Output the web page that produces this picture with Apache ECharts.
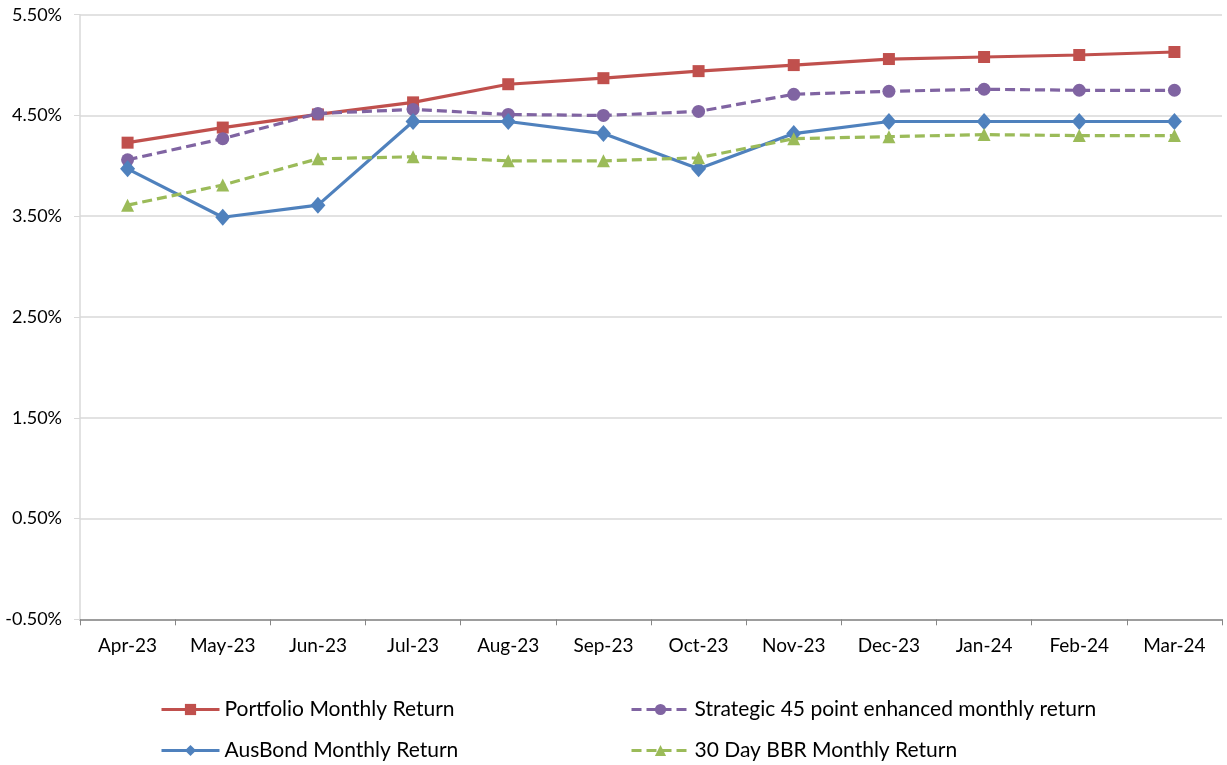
<!DOCTYPE html>
<html>
<head>
<meta charset="utf-8">
<script src="https://cdn.jsdelivr.net/npm/echarts@6/dist/echarts.min.js"></script>
<style>
  html, body { margin: 0; padding: 0; background: #fff; }
  #chart { width: 1227px; height: 765px; }
</style>
</head>
<body>
<div id="chart"></div>
<script>
var months = ['Apr-23', 'May-23', 'Jun-23', 'Jul-23', 'Aug-23', 'Sep-23', 'Oct-23', 'Nov-23', 'Dec-23', 'Jan-24', 'Feb-24', 'Mar-24'];
var portfolio = [4.23, 4.38, 4.51, 4.63, 4.81, 4.87, 4.94, 5.00, 5.06, 5.08, 5.10, 5.13];
var strategic = [4.06, 4.27, 4.52, 4.56, 4.51, 4.50, 4.54, 4.71, 4.74, 4.76, 4.75, 4.75];
var ausBond = [3.97, 3.49, 3.61, 4.44, 4.44, 4.32, 3.97, 4.32, 4.44, 4.44, 4.44, 4.44];
var bbr = [3.61, 3.81, 4.07, 4.09, 4.05, 4.05, 4.08, 4.27, 4.29, 4.31, 4.30, 4.30];

var font = 'Lato';
var myChart = echarts.init(document.getElementById('chart'));

function lineSeries(name, data, color, symbol, size, dashed) {
    return {
        name: name,
        type: 'line',
        data: data,
        symbol: symbol,
        symbolSize: size,
        showAllSymbol: true,
        itemStyle: { color: color },
        lineStyle: { color: color, width: 3.2, type: dashed ? [10, 5] : 'solid' },
        emphasis: { disabled: true },
        animation: false
    };
}

// one legend per entry so the 2x2 layout is fixed
function legendItem(name, left, top) {
    return {
        data: [name],
        left: left,
        top: top,
        padding: 0,
        itemWidth: 58,
        itemHeight: 14,
        selectedMode: false,
        lineStyle: { width: 3 },
        textStyle: { fontFamily: font, fontSize: 21, color: '#000' }
    };
}

var option = {
    backgroundColor: '#fff',
    textStyle: { fontFamily: font },
    grid: { left: 80, right: 5, top: 14.7, bottom: 765 - 619.3, containLabel: false },
    legend: [
        legendItem('Portfolio Monthly Return', 160, 699),
        legendItem('AusBond Monthly Return', 160, 740),
        legendItem('Strategic 45 point enhanced monthly return', 630, 699),
        legendItem('30 Day BBR Monthly Return', 630, 740)
    ],
    xAxis: {
        type: 'category',
        data: months,
        boundaryGap: true,
        axisLine: { onZero: false, lineStyle: { color: '#868686', width: 1.5 } },
        axisTick: { show: true, length: 6, lineStyle: { color: '#868686' } },
        axisLabel: { fontFamily: font, fontSize: 19, color: '#000', margin: 17 },
        splitLine: { show: false }
    },
    yAxis: {
        type: 'value',
        min: -0.5,
        max: 5.5,
        interval: 1,
        axisLine: { show: true, lineStyle: { color: '#d9d9d9', width: 1.5 } },
        axisTick: { show: true, length: 6, lineStyle: { color: '#d9d9d9' } },
        axisLabel: {
            fontFamily: font, fontSize: 18, color: '#000', margin: 18,
            formatter: function (v) { return v.toFixed(2) + '%'; }
        },
        splitLine: { lineStyle: { color: '#d9d9d9', width: 1.5 } }
    },
    series: [
        lineSeries('Portfolio Monthly Return', portfolio, '#c0504d', 'rect', 12, false),
        lineSeries('Strategic 45 point enhanced monthly return', strategic, '#8064a2', 'circle', 13, true),
        lineSeries('AusBond Monthly Return', ausBond, '#4f81bd', 'diamond', [15, 17], false),
        lineSeries('30 Day BBR Monthly Return', bbr, '#9bbb59', 'triangle', 13, true)
    ]
};

myChart.setOption(option);
</script>
</body>
</html>
